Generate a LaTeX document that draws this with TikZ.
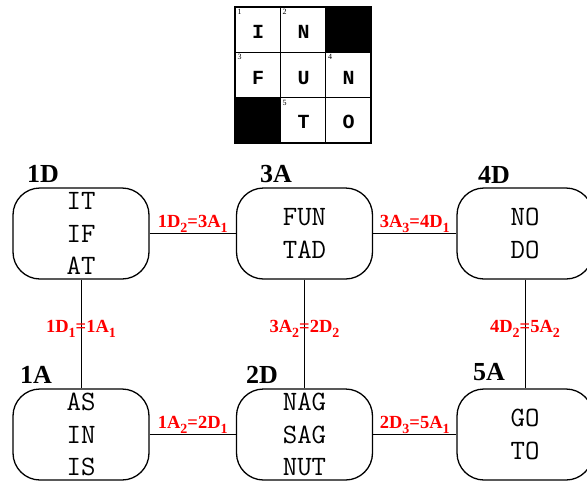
\documentclass[tikz,border=0pt]{standalone}
\usepackage{fontspec}
\setmainfont{Liberation Serif}
\newfontfamily\boxfont{Latin Modern Mono}
\newfontfamily\gridfont{Liberation Mono}
\newcommand\sbs[1]{\raisebox{-5pt}{\fontsize{14}{14}\selectfont #1}}
\begin{document}
\begin{tikzpicture}[x=1pt,y=-1pt,
  wbox/.style={draw, line width=1.3pt, rounded corners=27pt, minimum width=136pt, minimum height=91pt, inner sep=0pt, align=center, font=\boxfont\fontsize{28}{32.5}\selectfont},
  ttl/.style={font=\bfseries\fontsize{26}{26}\selectfont, inner sep=0pt},
  lbl/.style={text=red, font=\bfseries\fontsize{18.5}{18.5}\selectfont, inner sep=0pt},
  conn/.style={line width=0.9pt},
  glet/.style={font=\gridfont\bfseries\fontsize{20}{20}\selectfont, inner sep=0pt},
  gnum/.style={font=\fontsize{8}{8}\selectfont, inner sep=0pt, anchor=north west},
  gline/.style={line width=0.8pt}
]
\useasboundingbox (0,0) rectangle (587,480);
% crossword grid
\fill (325.7,7) rectangle (371,52.3);
\fill (235,97.7) rectangle (280.3,143);
\draw[gline] (280.3,7) -- (280.3,143);
\draw[gline] (325.7,7) -- (325.7,143);
\draw[gline] (235,52.3) -- (371,52.3);
\draw[gline] (235,97.7) -- (371,97.7);
\draw[line width=1.6pt] (235,7) rectangle (371,143);
\node[glet] (g1) at (258,32) {I};
\node[glet] (g2) at (303.5,32) {N};
\node[glet] (g3) at (258,78) {F};
\node[glet] (g4) at (303.5,78) {U};
\node[glet] (g5) at (348.5,78) {N};
\node[glet] (g6) at (303.5,122) {T};
\node[glet] (g7) at (348.5,122) {O};
\node[gnum] (n1) at (237.5,9) {1};
\node[gnum] (n2) at (282.5,9) {2};
\node[gnum] (n3) at (237.5,54.5) {3};
\node[gnum] (n4) at (328,54.5) {4};
\node[gnum] (n5) at (282.5,100) {5};
% boxes
\node[wbox] (d1) at (81,233.5) {IT\\IF\\AT};
\node[wbox] (a3) at (304.5,233.5) {FUN\\TAD};
\node[wbox] (d4) at (525,233.5) {NO\\DO};
\node[wbox] (a1) at (81,434.5) {AS\\IN\\IS};
\node[wbox] (d2) at (304.5,434.5) {NAG\\SAG\\NUT};
\node[wbox] (a5) at (525,434.5) {GO\\TO};
% titles
\node[ttl] (t1) at (43,174) {1D};
\node[ttl] (t2) at (276,174) {3A};
\node[ttl] (t3) at (494,175) {4D};
\node[ttl] (t4) at (36,375) {1A};
\node[ttl] (t5) at (262,375) {2D};
\node[ttl] (t6) at (489,372) {5A};
% connectors
\draw[conn] (d1.east) -- node[lbl, above=0.5pt] (e1) {1D\sbs{2}=3A\sbs{1}} (a3.west);
\draw[conn] (a3.east) -- node[lbl, above=0.5pt] (e2) {3A\sbs{3}=4D\sbs{1}} (d4.west);
\draw[conn] (a1.east) -- node[lbl, above=0.5pt] (e3) {1A\sbs{2}=2D\sbs{1}} (d2.west);
\draw[conn] (d2.east) -- node[lbl, above=0.5pt] (e4) {2D\sbs{3}=5A\sbs{1}} (a5.west);
\draw[conn] (d1.south) -- node[lbl, pos=0.45] (e5) {1D\sbs{1}=1A\sbs{1}} (a1.north);
\draw[conn] (a3.south) -- node[lbl, pos=0.45] (e6) {3A\sbs{2}=2D\sbs{2}} (d2.north);
\draw[conn] (d4.south) -- node[lbl, pos=0.45] (e7) {4D\sbs{2}=5A\sbs{2}} (a5.north);
\end{tikzpicture}
\end{document}
